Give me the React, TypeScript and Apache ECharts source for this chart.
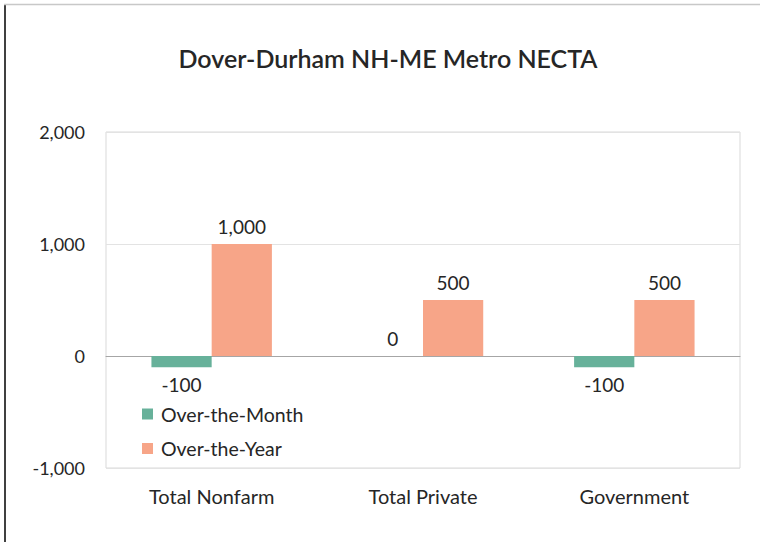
import React, { useEffect, useRef } from "react";
import * as echarts from "echarts";

const title = "Dover-Durham NH-ME Metro NECTA";
const categories = ["Total Nonfarm", "Total Private", "Government"];
const overTheMonth = [-100, 0, -100];
const overTheYear = [1000, 500, 500];
const seriesNames = ["Over-the-Month", "Over-the-Year"];
const yMin = -1000;
const yMax = 2000;
const yInterval = 1000;

const FONT = "Lato, 'Noto Sans', sans-serif";

function fmt(v: number) {
  return v.toLocaleString("en-US");
}

function withLabels(values: number[]) {
  return values.map((v) => ({
    value: v,
    label: { position: v < 0 ? "bottom" : "top" },
  }));
}

export default function App() {
  const ref = useRef<HTMLDivElement>(null);
  useEffect(() => {
    document.body.style.margin = "0";
    const chart = echarts.init(ref.current!, undefined, { renderer: "svg" });
    const labelStyle = {
      show: true,
      distance: 8,
      fontFamily: FONT,
      fontSize: 19,
      color: "#262626",
      formatter: (p: any) => fmt(p.value),
    };
    chart.setOption({
      animation: false,
      backgroundColor: "#ffffff",
      title: {
        text: title,
        left: 383,
        textAlign: "center",
        top: 39,
        textStyle: { fontFamily: FONT, fontSize: 25, fontWeight: 600, color: "#262626", lineHeight: 28 },
      },
      legend: {
        orient: "vertical",
        left: 137,
        top: 399,
        itemWidth: 11,
        itemHeight: 11,
        itemGap: 14.5,
        icon: "rect",
        textStyle: {
          fontFamily: FONT,
          fontSize: 19.5,
          color: "#262626",
          lineHeight: 20,
          padding: [0, 0, 0, 3],
        },
        data: seriesNames,
      },
      grid: {
        left: 106,
        right: 20,
        top: 132,
        bottom: 74,
        show: true,
        borderColor: "#d9d9d9",
        borderWidth: 1,
      },
      xAxis: {
        type: "category",
        data: categories,
        axisLine: { onZero: true, lineStyle: { color: "#a6a6a6", width: 1 } },
        axisTick: { show: false },
        axisLabel: {
          interval: 0,
          fontFamily: FONT,
          fontSize: 20,
          color: "#262626",
          margin: 18,
        },
        position: "bottom",
      },
      yAxis: {
        type: "value",
        min: yMin,
        max: yMax,
        interval: yInterval,
        axisLine: { show: false },
        axisTick: { show: false },
        splitLine: { lineStyle: { color: "#e3e3e3", width: 1 } },
        axisLabel: {
          fontFamily: FONT,
          fontSize: 18,
          color: "#262626",
          margin: 21,
          formatter: (v: number) => fmt(v),
        },
      },
      series: [
        {
          name: seriesNames[0],
          type: "bar",
          data: withLabels(overTheMonth),
          barWidth: "28.5%",
          barGap: "0%",
          itemStyle: { color: "#67b19a" },
          label: labelStyle,
        },
        {
          name: seriesNames[1],
          type: "bar",
          data: withLabels(overTheYear),
          barWidth: "28.5%",
          barGap: "0%",
          itemStyle: { color: "#f7a588" },
          label: labelStyle,
        },
      ],
      graphic: [
        {
          type: "line",
          shape: { x1: 5, y1: 4, x2: 5, y2: 560 },
          style: { stroke: "#404040", lineWidth: 2 },
          silent: true,
        },
        {
          type: "line",
          shape: { x1: 4, y1: 4.5, x2: 780, y2: 4.5 },
          style: { stroke: "#c8c8c8", lineWidth: 1.5 },
          silent: true,
        },
      ],
    });
    return () => chart.dispose();
  }, []);
  return (
    <div
      ref={ref}
      style={{ position: "fixed", left: 0, top: 0, width: 760, height: 542 }}
    />
  );
}
